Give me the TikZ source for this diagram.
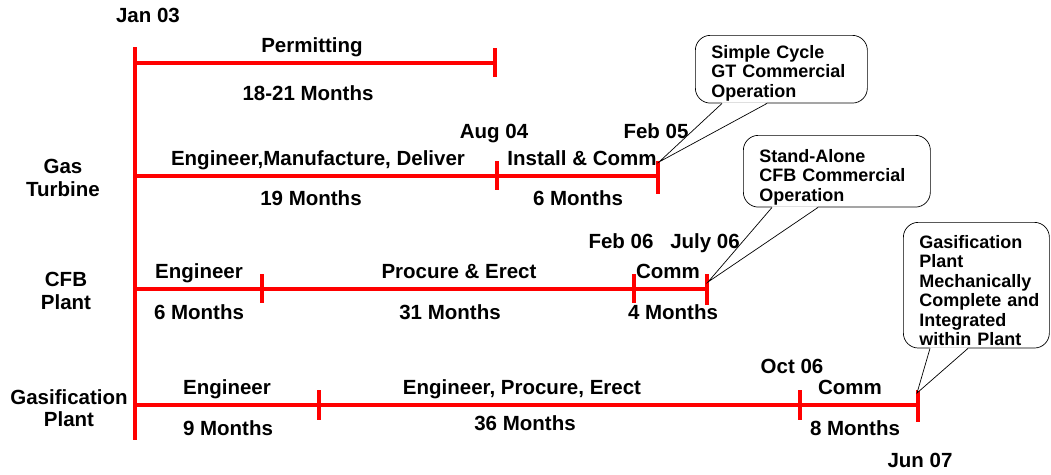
\documentclass[tikz,border=0pt]{standalone}
\usepackage{fontspec}
\setmainfont{Liberation Sans}

\begin{document}
\begin{tikzpicture}[x=1pt,y=-1pt,
    bar/.style={draw=red, line width=4.5pt},
    lbl/.style={font=\fontsize{20.5}{23}\selectfont\bfseries, inner sep=0pt, text height=15pt, text depth=0pt},
    side/.style={font=\fontsize{20.5}{22.5}\selectfont\bfseries, inner sep=0pt, align=center},
    note/.style={draw, line width=0.7pt, rounded corners=15pt, fill=white, anchor=north west,
      align=left, inner xsep=16pt, inner ysep=2pt, font=\fontsize{18}{19.5}\selectfont\bfseries}]
\useasboundingbox (0,0) rectangle (1051,474);

% time axis and bars
\draw [bar] (135,47) -- (135,440);
\draw [bar] (135,63) -- (495,63);
\draw [bar] (135,176) -- (658,176);
\draw [bar] (135,289) -- (707,289);
\draw [bar] (135,405) -- (918,405);

% ticks
\draw [bar] (495,48) -- (495,77);
\draw [bar] (497,161) -- (497,190);
\draw [bar] (658,161) -- (658,194);
\draw [bar] (262,274) -- (262,303);
\draw [bar] (634,274) -- (634,303);
\draw [bar] (707,274) -- (707,305);
\draw [bar] (319,390) -- (319,420);
\draw [bar] (800,390) -- (800,420);
\draw [bar] (918,390) -- (918,422);
\coordinate (gtend) at (659,162);
\coordinate (cfbend) at (708,282);
\coordinate (gasend) at (917,393);

% plant names
\node [side] (gt) at (63,178) {Gas\\Turbine};
\node [side] (cfb) at (66,291) {CFB\\Plant};
\node [side] (gas) at (69,408) {Gasification\\Plant};

% dates
\node [lbl] (jan03) at (148,15) {Jan 03};
\node [lbl] (aug04) at (494,131) {Aug 04};
\node [lbl] (feb05) at (656,131) {Feb 05};
\node [lbl] (feb06) at (621,241) {Feb 06};
\node [lbl] (jul06) at (705,241) {July 06};
\node [lbl] (oct06) at (792,366) {Oct 06};
\node [lbl] (jun07) at (920,460) {Jun 07};

% permitting
\node [lbl] (perm) at (312,45) {Permitting};
\node [lbl] (permdur) at (308,93) {18-21 Months};

% gas turbine
\node [lbl] (gtemd) at (318,158) {Engineer,Manufacture, Deliver};
\node [lbl] (gtemddur) at (311,198) {19 Months};
\node [lbl] (gtinst) at (582,158) {Install \& Comm};
\node [lbl] (gtinstdur) at (578,198) {6 Months};

% cfb plant
\node [lbl] (cfbeng) at (199,271) {Engineer};
\node [lbl] (cfbengdur) at (199,312) {6 Months};
\node [lbl] (cfbpe) at (459,271) {Procure \& Erect};
\node [lbl] (cfbpedur) at (450,312) {31 Months};
\node [lbl] (cfbcomm) at (668,271) {Comm};
\node [lbl] (cfbcommdur) at (673,312) {4 Months};

% gasification plant
\node [lbl] (gaseng) at (227,387) {Engineer};
\node [lbl] (gasengdur) at (228,428) {9 Months};
\node [lbl] (gasepe) at (522,387) {Engineer, Procure, Erect};
\node [lbl] (gasepedur) at (525,423) {36 Months};
\node [lbl] (gascomm) at (850,387) {Comm};
\node [lbl] (gascommdur) at (855,428) {8 Months};

% callouts, text sits low in the box
\node [note, text width=140pt] (gtnote) at (695,35)
  {\rule{0pt}{21pt}Simple Cycle\\GT Commercial\\Operation};
\node [note, text width=155pt] (cfbnote) at (743,135)
  {\rule{0pt}{25pt}Stand-Alone\\CFB Commercial\\Operation};
\node [note, text width=114pt] (gasnote) at (903,222)
  {\rule{0pt}{24pt}Gasification\\Plant\\Mechanically\\Complete~and\\Integrated\\within Plant};

\fill [white] ([xshift=27pt,yshift=1pt]gtnote.south west) -- (gtend) -- ([xshift=72pt,yshift=1pt]gtnote.south west) -- cycle;
\draw [line width=0.7pt] ([xshift=27pt]gtnote.south west) -- (gtend) -- ([xshift=72pt]gtnote.south west);
\fill [white] ([xshift=29pt,yshift=1pt]cfbnote.south west) -- (cfbend) -- ([xshift=75pt,yshift=1pt]cfbnote.south west) -- cycle;
\draw [line width=0.7pt] ([xshift=29pt]cfbnote.south west) -- (cfbend) -- ([xshift=75pt]cfbnote.south west);
\fill [white] ([xshift=27pt,yshift=1pt]gasnote.south west) -- (gasend) -- ([xshift=65pt,yshift=1pt]gasnote.south west) -- cycle;
\draw [line width=0.7pt] ([xshift=27pt]gasnote.south west) -- (gasend) -- ([xshift=65pt]gasnote.south west);
\end{tikzpicture}
\end{document}
